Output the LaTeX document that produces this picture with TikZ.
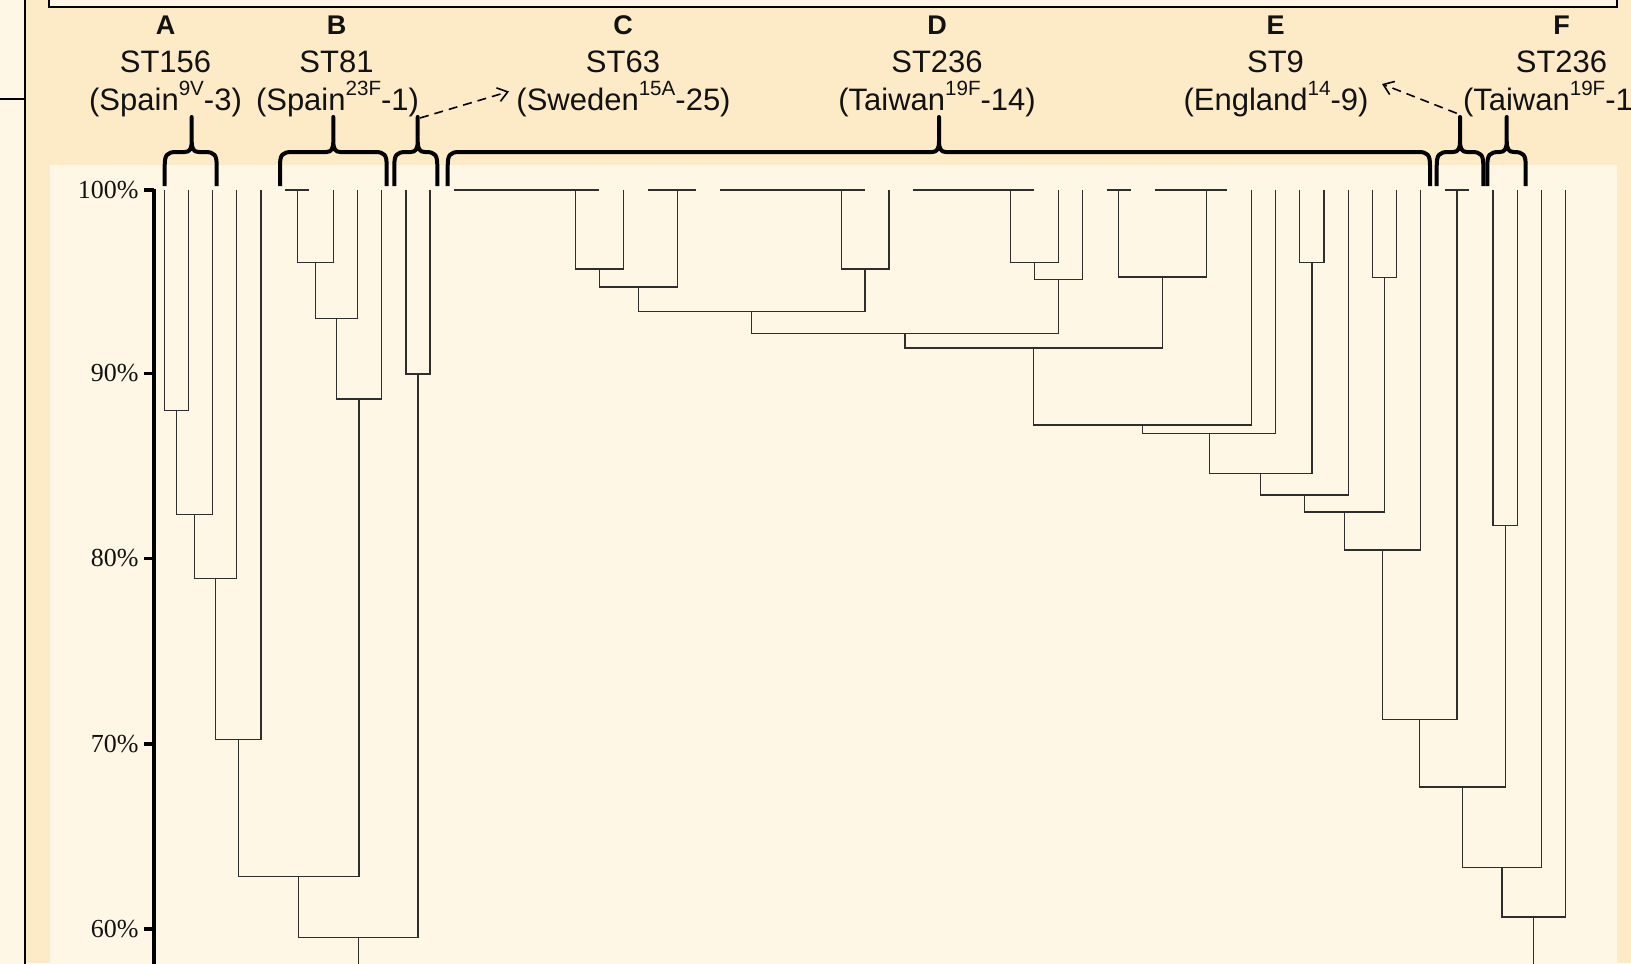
\documentclass[tikz,border=0pt]{standalone}
\usepackage{fontspec}
\setmainfont{Liberation Sans}
\newfontfamily\serf{Liberation Serif}
\usetikzlibrary{calc,arrows.meta}
\definecolor{beige}{HTML}{FDEBC8}
\definecolor{lightbg}{HTML}{FFF7E6}
\definecolor{dendc}{HTML}{2E2E2E}
\newcommand\sups[1]{\raisebox{7.6pt}{\fontsize{10.3}{12}\selectfont #1}}
\newcommand\dmerge[4]{%
  \draw[dend] (#2) -- (#2 |- 0,#4) -- (#3 |- 0,#4) -- (#3);
  \coordinate (#1) at ($(#2 |- 0,#4)!0.5!(#3 |- 0,#4)$);}
\newcommand\bracedraw[3]{%
  \draw[bracest] (#1,186) -- (#1,166) .. controls (#1,155) and ({#1+2},152) .. ({#1+12},152)
    -- ({#2-7},152) .. controls ({#2-2},152) and (#2,149) .. (#2,141) -- (#2,117) -- (#2,141)
    .. controls (#2,149) and ({#2+2},152) .. ({#2+7},152) -- ({#3-12},152)
    .. controls ({#3-2},152) and (#3,155) .. (#3,166) -- (#3,186);}
\tikzset{
  dend/.style={draw=dendc, line width=0.65pt},
  bracest/.style={draw=black, line width=2pt, line join=round, line cap=butt},
  darr/.style={draw=black, line width=0.8pt, dash pattern=on 4.5pt off 3pt,
    -{Straight Barb[length=4.8pt,width=7pt]}},
  lett/.style={anchor=base, inner sep=0pt, text=black!93, font=\bfseries\fontsize{13.5}{14}\selectfont},
  stl/.style={anchor=base, inner sep=0pt, text=black!93, font=\fontsize{15.5}{16}\selectfont},
  axl/.style={anchor=east, inner sep=0pt, text=black!93, font=\serf\fontsize{13}{13}\selectfont},
  tickst/.style={draw=black, line width=1.65pt},
  panel/.style={draw=black, line width=1pt}
}
\begin{document}
\begin{tikzpicture}[x=0.5pt,y=-0.5pt]
\useasboundingbox (0,0) rectangle (1631,963);
\clip (0,0) rectangle (1631,963);
% backgrounds
\fill[beige] (0,0) rectangle (1631,963);
\fill[lightbg] (-5,-5) rectangle (25,970);
\draw[panel] (25,-5) -- (25,970);
\draw[panel] (-5,99) -- (25,99);
\draw[panel, fill=lightbg] (49.3,-10) rectangle (1617,7.3);
\fill[lightbg] (50,165) rectangle (1617,970);
% axis
\draw[line width=2.15pt] (153.8,188.5) -- (153.8,970);
\foreach \p/\yy in {100/190,90/373.5,80/558.3,70/744,60/929}{
  \draw[tickst] (144,\yy) -- (153.8,\yy);
  \node[axl] (ax\p) at (139,\yy) {\p\%};
}
% leaves
\foreach \k in {0,...,58}{\coordinate (l\k) at ({164.3+24.16*\k},190);}
% cluster A and B
\dmerge{a1}{l0}{l1}{410.7}
\dmerge{a2}{a1}{l2}{514.3}
\dmerge{a3}{a2}{l3}{578.7}
\dmerge{a4}{a3}{l4}{739.3}
\dmerge{b1}{l5}{l6}{190}
\dmerge{b2}{b1}{l7}{262.7}
\dmerge{b3}{b2}{l8}{318.3}
\dmerge{b4}{b3}{l9}{399}
\dmerge{ab}{a4}{b4}{876.7}
\dmerge{c0}{l10}{l11}{374}
\dmerge{r1}{ab}{c0}{937.7}
\coordinate (r1end) at (r1 |- 0,970);
\draw[dend] (r1) -- (r1end);
% big cluster
\dmerge{d1}{l12}{l13}{190}
\dmerge{d2}{d1}{l14}{190}
\dmerge{d3}{d2}{l15}{190}
\dmerge{d4}{d3}{l16}{190}
\dmerge{d5}{d4}{l17}{190}
\dmerge{d6}{d5}{l18}{190}
\dmerge{d7}{d6}{l19}{269}
\dmerge{e1}{l20}{l21}{190}
\dmerge{e2}{e1}{l22}{190}
\dmerge{d8}{d7}{e2}{287}
\dmerge{f1}{l23}{l24}{190}
\dmerge{f2}{f1}{l25}{190}
\dmerge{f3}{f2}{l26}{190}
\dmerge{f4}{f3}{l27}{190}
\dmerge{f5}{f4}{l28}{190}
\dmerge{f6}{f5}{l29}{190}
\dmerge{f7}{f6}{l30}{269}
\dmerge{d9}{d8}{f7}{311.3}
\dmerge{g1}{l31}{l32}{190}
\dmerge{g2}{g1}{l33}{190}
\dmerge{g3}{g2}{l34}{190}
\dmerge{g4}{g3}{l35}{190}
\dmerge{g5}{g4}{l36}{190}
\dmerge{g6}{g5}{l37}{262.7}
\dmerge{g7}{g6}{l38}{279.7}
\dmerge{d10}{d9}{g7}{333.3}
\dmerge{h1}{l39}{l40}{190}
\dmerge{h2}{l41}{l42}{190}
\dmerge{h3}{h2}{l43}{190}
\dmerge{h4}{h3}{l44}{190}
\dmerge{h5}{h1}{h4}{277}
\dmerge{d11}{d10}{h5}{348}
\dmerge{d12}{d11}{l45}{425}
\dmerge{d13}{d12}{l46}{433.3}
\dmerge{i1}{l47}{l48}{262.7}
\dmerge{d14}{d13}{i1}{473.3}
\dmerge{d15}{d14}{l49}{495}
\dmerge{j1}{l50}{l51}{277.3}
\dmerge{d16}{d15}{j1}{512}
\dmerge{d17}{d16}{l52}{550}
\dmerge{k1}{l53}{l54}{190}
\dmerge{d18}{d17}{k1}{719.3}
\dmerge{m1}{l55}{l56}{525.3}
\dmerge{d19}{d18}{m1}{787}
\dmerge{d20}{d19}{l57}{867.7}
\dmerge{d21}{d20}{l58}{917}
\coordinate (d21end) at (d21 |- 0,970);
\draw[dend] (d21) -- (d21end);
% braces
\bracedraw{164.7}{191.7}{216.7}
\bracedraw{280}{333.3}{386.7}
\bracedraw{394.3}{417.7}{437.3}
\bracedraw{447.7}{939}{1430}
\bracedraw{1436.7}{1460}{1483.3}
\bracedraw{1487.3}{1506.7}{1525.7}
% labels
\node[lett] (LA) at (165.5,35) {A};
\node[stl] (SA) at (165.5,72.7) {ST156};
\node[stl] (PA) at (165.5,111) {(Spain\sups{9V}-3)};
\node[lett] (LB) at (336.5,35) {B};
\node[stl] (SB) at (336.5,72.7) {ST81};
\node[stl] (PB) at (337.5,111) {(Spain\sups{23F}-1)};
\node[lett] (LC) at (623,35) {C};
\node[stl] (SC) at (623,72.7) {ST63};
\node[stl] (PC) at (623.5,111) {(Sweden\sups{15A}-25)};
\node[lett] (LD) at (937,35) {D};
\node[stl] (SD) at (937,72.7) {ST236};
\node[stl] (PD) at (937,111) {(Taiwan\sups{19F}-14)};
\node[lett] (LE) at (1275.5,35) {E};
\node[stl] (SE) at (1275.5,72.7) {ST9};
\node[stl] (PE) at (1276,111) {(England\sups{14}-9)};
\node[lett] (LF) at (1561.5,35) {F};
\node[stl] (SF) at (1561.5,72.7) {ST236};
\node[stl] (PF) at (1561.7,111) {(Taiwan\sups{19F}-14)};
% dashed arrows
\coordinate (tipC) at (420,118);
\coordinate (headC) at (509,91.5);
\draw[darr] (tipC) -- (headC);
\coordinate (tipE) at (1456.7,113.3);
\coordinate (headE) at (1382,84);
\draw[darr] (tipE) -- (headE);
\end{tikzpicture}
\end{document}
